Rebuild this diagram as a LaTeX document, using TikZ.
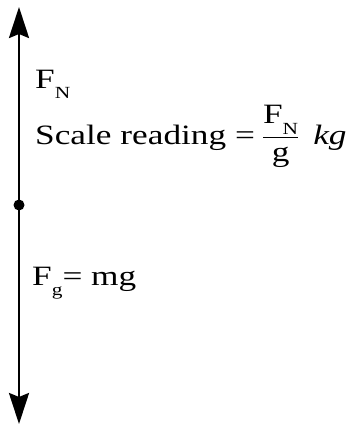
\documentclass[tikz,border=0pt]{standalone}
\usepackage{amsmath}
\usepackage{fontspec}
\setmainfont{Liberation Serif}[FakeStretch=1.26]
\usetikzlibrary{arrows.meta}
\newcommand{\lsub}[1]{\raisebox{-0.38em}{\fontsize{17}{17}\selectfont #1}}

\begin{document}
\begin{tikzpicture}[x=1pt, y=1pt,
  every node/.style={font=\fontsize{28}{33}\selectfont, inner sep=0pt, anchor=base west},
  force/.style={line width=2.6pt, -{Stealth[length=31pt,width=20pt,inset=4pt]}}]
 \useasboundingbox (0,0) rectangle (357,-426);
 \coordinate (body) at (19,-205);
 \coordinate (up) at (19,-7);
 \coordinate (down) at (19,-424);
 % forces on the body
 \draw[force] (body) -- (up);
 \draw[force] (body) -- (down);
 \fill (body) circle (5.5);
 % labels
 \node (fn) at (35,-88) {F\lsub{N}};
 \node (reading) at (35,-144) {Scale reading $\mathrel{\text{=}}\dfrac{\text{F\lsub{N}}}{\text{g}}$\hspace{0.5em}\textit{kg}};
 \node (fg) at (32,-285) {F\lsub{g}= mg};
\end{tikzpicture}
\end{document}
